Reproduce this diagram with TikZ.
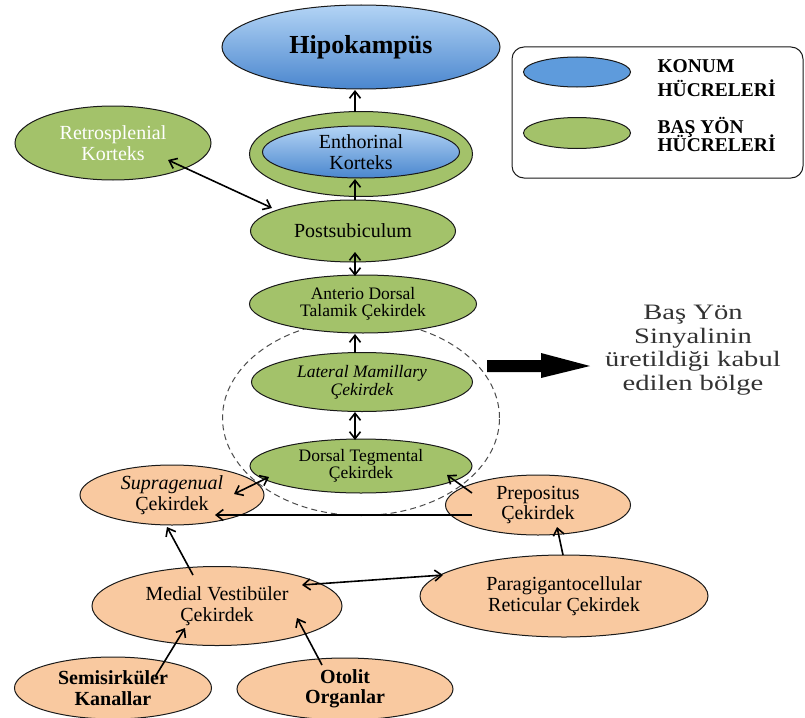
\documentclass[tikz,border=0pt]{standalone}
\usepackage{fontspec}
\setmainfont{Liberation Serif}
\newfontfamily\widefont[FakeStretch=1.3]{Liberation Serif}
\usetikzlibrary{shapes.geometric,arrows.meta,calc}
\definecolor{gfill}{HTML}{A3C26A}
\definecolor{ofill}{HTML}{F9C9A0}
\definecolor{btop}{HTML}{B3D4F5}
\definecolor{bbot}{HTML}{4A86CE}
\definecolor{bleg}{HTML}{5E9BDC}
\definecolor{edgec}{HTML}{1A1A1A}
\definecolor{sigtext}{HTML}{333333}
\begin{document}
\begin{tikzpicture}[x=1pt,y=-1pt,
 >={Straight Barb[length=7pt,width=11pt]},
 ell/.style={ellipse, draw=edgec, line width=1pt, inner sep=0pt},
 gnode/.style={ell, fill=gfill},
 onode/.style={ell, fill=ofill},
 bnode/.style={ell, top color=btop, bottom color=bbot},
 txt/.style={label={[align=center, font=\fontsize{20}{20.5}\selectfont]center:#1}},
 stxt/.style={label={[align=center, font=\fontsize{17.5}{17.5}\selectfont]center:#1}},
 wtxt/.style={label={[align=center, text=white, font=\fontsize{20}{20.5}\selectfont]center:#1}},
 btxt/.style={label={[align=center, font=\bfseries\fontsize{20}{20.5}\selectfont]center:#1}},
 leglbl/.style={anchor=base west, font=\bfseries\fontsize{19.5}{20}\selectfont},
 arr/.style={line width=1.6pt, ->},
 darr/.style={line width=1.6pt, <->},
]
\fill[white] (0,0) rectangle (805,717);
\useasboundingbox (0,0) rectangle (805,717);

% dashed region
\node[ellipse, draw=black!70, dash pattern=on 6pt off 4pt, line width=1pt, minimum width=277, minimum height=195] (region) at (361,418) {};

% top nodes
\node[bnode, minimum width=278, minimum height=84, btxt={\fontsize{26}{28}\selectfont Hipokampüs}] (hipo) at (361,47) {};
\node[gnode, minimum width=223, minimum height=85] (entout) at (361,154) {};
\node[bnode, minimum width=197, minimum height=52, txt={Enthorinal\\Korteks}] (ent) at (361,152) {};
\node[gnode, minimum width=196, minimum height=74, wtxt={Retrosplenial\\Korteks}] (retro) at (113,143) {};
\node[gnode, minimum width=205, minimum height=62, txt={Postsubiculum}] (post) at (353,231) {};
\node[gnode, minimum width=227, minimum height=58, stxt={Anterio Dorsal\\Talamik Çekirdek}] (ant) at (363,304) {};
\node[gnode, minimum width=221, minimum height=59, stxt={\itshape Lateral Mamillary\\\itshape Çekirdek}] (lat) at (362,382) {};
\node[gnode, minimum width=222, minimum height=54, stxt={Dorsal Tegmental\\Çekirdek}] (dors) at (361,466) {};

% orange nodes
\node[onode, minimum width=184, minimum height=60, txt={\itshape Supragenual\\Çekirdek}] (supra) at (172,495) {};
\node[onode, minimum width=185, minimum height=60, txt={Prepositus\\Çekirdek}] (prep) at (538,505) {};
\node[onode, minimum width=250, minimum height=79, txt={Medial Vestibüler\\Çekirdek}] (med) at (217,606) {};
\node[onode, minimum width=288, minimum height=82, txt={Paragigantocellular\\Reticular Çekirdek}] (para) at (564,596) {};
\node[onode, minimum width=197, minimum height=62, btxt={Semisirküler\\Kanallar}] (semi) at (113,688) {};
\node[onode, minimum width=216, minimum height=62, btxt={Otolit\\Organlar}] (oto) at (345,689) {};

% legend
\node[draw=edgec, line width=1pt, rounded corners=12pt, minimum width=291, minimum height=131, inner sep=0pt] (legend) at (657.5,112.5) {};
\node[ell, fill=bleg, minimum width=107, minimum height=30] (legb) at (577,72) {};
\node[ell, fill=gfill, minimum width=107, minimum height=31] (legg) at (577,133) {};
\node[leglbl] (legb1) at (654,73) {KONUM};
\node[leglbl] (legb2) at (654,96) {HÜCRELERİ};
\node[leglbl] (legg1) at (654,133) {BAŞ YÖN};
\node[leglbl] (legg2) at (654,151) {HÜCRELERİ};

% signal text and big arrow
\node[align=center, text=sigtext, font=\widefont\fontsize{22}{23.5}\selectfont] (sig) at (693,350) {Baş Yön\\Sinyalinin\\üretildiği kabul\\edilen bölge};
\fill[black] (487,360) -- (541,360) -- (541,353) -- (590,366) -- (541,378) -- (541,372) -- (487,372) -- cycle;

% connectors
\draw[arr] ($(entout)+(-6,-42)$) -- ($(hipo)+(-6,43)$);
\draw[arr] ($(post)+(2,-31)$) -- ($(ent)+(-6,27)$);
\draw[darr] ($(retro)+(55,17)$) -- ($(post)+(-81,-23)$);
\draw[darr] ($(post)+(2,21)$) -- ($(ant)+(-8,-28)$);
\draw[arr] ($(lat)+(-7,-29)$) -- ($(ant)+(-8,30)$);
\draw[darr] ($(lat)+(-7,30)$) -- ($(dors)+(-6,-26)$);
\draw[darr] ($(dors)+(-92,11)$) -- ($(supra)+(62,-1)$);
\draw[arr] ($(prep)+(-66,-12)$) -- ($(dors)+(86,9)$);
\draw[arr] ($(prep)+(-66,10)$) -- ($(supra)+(43,20)$);
\draw[arr] ($(med)+(-24,-31)$) -- ($(supra)+(-5,32)$);
\draw[darr] ($(med)+(85,-21)$) -- ($(para)+(-121,-21)$);
\draw[arr] ($(para)+(-1,-41)$) -- ($(prep)+(19,22)$);
\draw[arr] ($(semi)+(42,-11)$) -- ($(med)+(-32,22)$);
\draw[arr] ($(oto)+(-23,-24)$) -- ($(med)+(80,12)$);
\end{tikzpicture}
\end{document}
